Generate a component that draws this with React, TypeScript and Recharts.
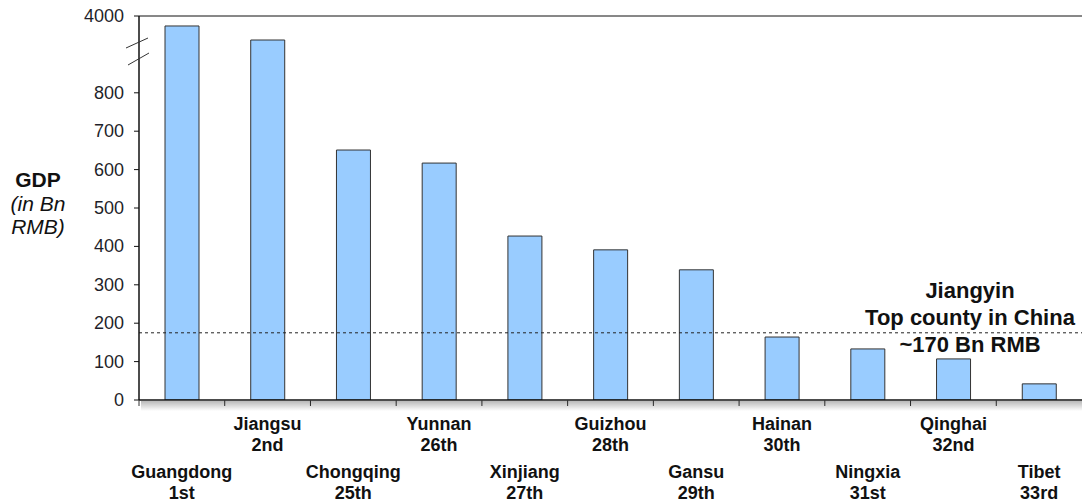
import React from 'react';
import { BarChart, Bar, XAxis, YAxis, ReferenceLine } from 'recharts';

// provinces ranked by GDP, values in Bn RMB
const provinces = ['Guangdong', 'Jiangsu', 'Chongqing', 'Yunnan', 'Xinjiang', 'Guizhou', 'Gansu', 'Hainan', 'Ningxia', 'Qinghai', 'Tibet'];
const ranks = ['1st', '2nd', '25th', '26th', '27th', '28th', '29th', '30th', '31st', '32nd', '33rd'];
const gdp = [3740, 3375, 651, 617, 427, 391, 339, 164, 133, 107, 42];
const yTicks = [0, 100, 200, 300, 400, 500, 600, 700, 800, 4000];
const jiangyinGdp = 175;

const W = 1082;
const H = 504;
const AXIS_X = 139;
const FONT = '"Liberation Sans", Arial, sans-serif';

// broken axis: linear up to 800, then 3000..4000 squeezed into 900..1000
const toAxis = (v: number) => (v <= 800 ? v : 900 + (v - 3000) / 10);

const data = provinces.map((name, i) => ({ name, rank: ranks[i], value: toAxis(gdp[i]) }));

const band = (W - AXIS_X) / provinces.length;

const XTick = (props: any) => {
  const { x, y, index } = props;
  const d = data[index];
  const lower = index % 2 === 0;
  const base = lower ? 78 : 30;
  return (
    <g>
      <line x1={x - band / 2} x2={x - band / 2} y1={y} y2={y + 6} stroke="#333" />
      <text x={x} y={y + base} textAnchor="middle" fontFamily={FONT} fontWeight="bold" fontSize={18} fill="#111">
        {d.name}
      </text>
      <text x={x} y={y + base + 21} textAnchor="middle" fontFamily={FONT} fontWeight="bold" fontSize={18} fill="#111">
        {d.rank}
      </text>
    </g>
  );
};

const YTick = (props: any) => {
  const { x, y, payload } = props;
  const label = yTicks.find((t) => toAxis(t) === payload.value);
  return (
    <g>
      <text x={x} y={y} dy={6} textAnchor="end" fontFamily={FONT} fontSize={18} fill="#1f1f2a">
        {label}
      </text>
      {label === 4000 && (
        <g stroke="#333" strokeWidth={1}>
          <line x1={AXIS_X - 13} y1={y + 32} x2={AXIS_X + 9} y2={y + 22} />
          <line x1={AXIS_X - 11} y1={y + 49} x2={AXIS_X + 10} y2={y + 37} />
        </g>
      )}
    </g>
  );
};

const JiangyinLabel = (props: any) => {
  const { viewBox } = props;
  const cx = 970;
  const y = viewBox.y;
  const style = { fontFamily: FONT, fontWeight: 'bold' as const, fontSize: 22, fill: '#111' };
  return (
    <g>
      <text x={cx} y={y - 35} textAnchor="middle" {...style}>Jiangyin</text>
      <text x={cx} y={y - 8} textAnchor="middle" {...style}>Top county in China</text>
      <text x={cx} y={y + 19} textAnchor="middle" {...style}>~170 Bn RMB</text>
    </g>
  );
};

export default function App() {
  return (
    <div style={{ position: 'absolute', left: 0, top: 0, width: W, height: H, overflow: 'hidden', background: '#fff' }}>
      <BarChart width={W} height={H} data={data} margin={{ top: 16, right: 0, bottom: 0, left: 0 }} barCategoryGap="30%">
        <XAxis
          dataKey="name"
          height={104}
          interval={0}
          tickLine={false}
          tickSize={0}
          tickMargin={0}
          axisLine={{ stroke: '#111', strokeWidth: 1.5 }}
          tick={<XTick />}
        />
        <YAxis
          width={AXIS_X}
          type="number"
          domain={[0, 1000]}
          ticks={yTicks.map(toAxis)}
          allowDataOverflow
          tickSize={5}
          tickMargin={10}
          axisLine={{ stroke: '#111', strokeWidth: 1.5 }}
          tickLine={{ stroke: '#111' }}
          tick={<YTick />}
        />
        <ReferenceLine y={1000} stroke="#111" strokeWidth={1} />
        <Bar dataKey="value" fill="#99CCFF" stroke="#333" strokeWidth={1} barSize={34} isAnimationActive={false} />
        <ReferenceLine
          y={jiangyinGdp}
          stroke="#222"
          strokeWidth={1}
          strokeDasharray="3 3"
          label={<JiangyinLabel />}
        />
      </BarChart>
      <div
        style={{
          position: 'absolute',
          left: AXIS_X + 2,
          top: 401,
          width: W - AXIS_X,
          height: 10,
          background: 'linear-gradient(rgba(0,0,0,0.28), rgba(0,0,0,0))',
          pointerEvents: 'none',
        }}
      />
      <div style={{ position: 'absolute', left: 0, top: 168, width: 76, textAlign: 'center', fontFamily: FONT, fontSize: 21, lineHeight: '23.5px', color: '#111' }}>
        <div style={{ fontWeight: 'bold' }}>GDP</div>
        <div style={{ fontStyle: 'italic' }}>(in Bn</div>
        <div style={{ fontStyle: 'italic' }}>RMB)</div>
      </div>
    </div>
  );
}
